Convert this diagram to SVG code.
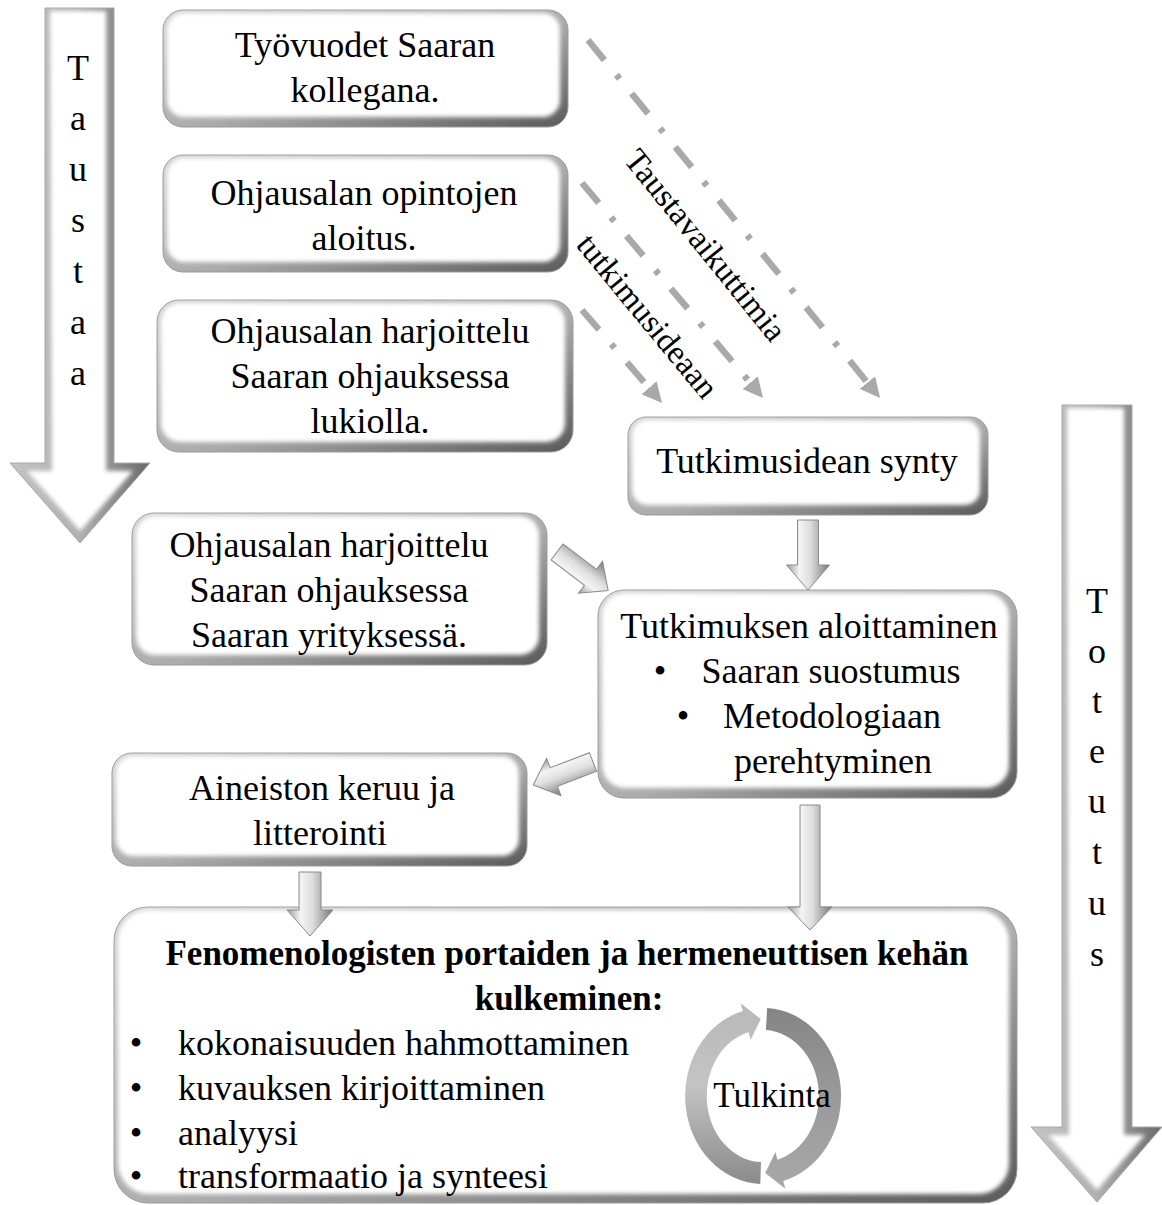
<svg xmlns="http://www.w3.org/2000/svg" width="1162" height="1205" viewBox="0 0 1162 1205">
<defs>
  <linearGradient id="gBox" x1="0" y1="0" x2="1" y2="1">
    <stop offset="0" stop-color="#d6d6d6"/>
    <stop offset="0.55" stop-color="#ababab"/>
    <stop offset="1" stop-color="#5a5a5a"/>
  </linearGradient>
  <linearGradient id="gBig" x1="0" y1="0" x2="1" y2="0">
    <stop offset="0" stop-color="#c4c4c4"/>
    <stop offset="0.5" stop-color="#b0b0b0"/>
    <stop offset="1" stop-color="#6a6a6a"/>
  </linearGradient>
  <linearGradient id="gBlk" x1="0" y1="0" x2="1" y2="0">
    <stop offset="0" stop-color="#9c9c9c"/>
    <stop offset="0.3" stop-color="#f4f4f4"/>
    <stop offset="0.55" stop-color="#dedede"/>
    <stop offset="0.75" stop-color="#b2b2b2"/>
    <stop offset="1" stop-color="#767676"/>
  </linearGradient>
  <linearGradient id="gRingL" x1="0" y1="0" x2="0" y2="1">
    <stop offset="0" stop-color="#b8b8b8"/>
    <stop offset="0.45" stop-color="#c4c4c4"/>
    <stop offset="1" stop-color="#8a8a8a"/>
  </linearGradient>
  <linearGradient id="gRingR" x1="0" y1="0" x2="0" y2="1">
    <stop offset="0" stop-color="#858585"/>
    <stop offset="0.5" stop-color="#9a9a9a"/>
    <stop offset="1" stop-color="#a8a8a8"/>
  </linearGradient>
  <filter id="soft" x="-5%" y="-5%" width="110%" height="110%">
    <feGaussianBlur stdDeviation="2.2"/>
  </filter>
  <marker id="dh" markerUnits="userSpaceOnUse" markerWidth="22" markerHeight="20" viewBox="0 0 22 20" refX="6" refY="10" orient="auto">
    <path d="M0,0 L20,10 L0,20 z" fill="#a9a9a9"/>
  </marker>
  <style>
    .bo { fill: url(#gBox); stroke: #9a9a9a; stroke-width: 1; }
    .bi { fill: #ffffff; filter: url(#soft); }
    .big { fill: url(#gBig); stroke: #a8a8a8; stroke-width: 1; }
    .blk { fill: url(#gBlk); stroke: #8a8a8a; stroke-width: 1; }
    .t { font-family: "Liberation Serif", "DejaVu Serif", serif; font-size: 36px; fill: #000; text-anchor: middle; }
    .tl { font-family: "Liberation Serif", "DejaVu Serif", serif; font-size: 36px; fill: #000; text-anchor: start; }
    .tb { font-family: "Liberation Serif", "DejaVu Serif", serif; font-size: 35px; font-weight: bold; fill: #000; text-anchor: middle; }
    .dd { fill: none; stroke: #a9a9a9; stroke-width: 6.5; stroke-dasharray: 26 19 5 19; marker-end: url(#dh); }
  </style>
</defs>
<rect width="1162" height="1205" fill="#ffffff"/>

<g id="taustaa">
  <polygon class="big" points="45,8 114,8 114,463 150,463 80,543 10,463 45,463"/>
  <polygon class="bi" points="50,11 106,11 106,471 133,471 80,531 27,471 52,471"/>
  <text class="t" x="78" y="80">T</text>
  <text class="t" x="78" y="130">a</text>
  <text class="t" x="78" y="181">u</text>
  <text class="t" x="78" y="232">s</text>
  <text class="t" x="78" y="283">t</text>
  <text class="t" x="78" y="334">a</text>
  <text class="t" x="78" y="385">a</text>
</g>

<g id="toteutus">
  <polygon class="big" points="1062,405 1132,405 1132,1127 1162,1127 1097,1202 1031,1127 1062,1127"/>
  <polygon class="bi" points="1067,408 1124,408 1124,1135 1145,1135 1097,1190 1048,1135 1069,1135"/>
  <text class="t" x="1097" y="613">T</text>
  <text class="t" x="1097" y="663">o</text>
  <text class="t" x="1097" y="713">t</text>
  <text class="t" x="1097" y="763">e</text>
  <text class="t" x="1097" y="813">u</text>
  <text class="t" x="1097" y="864">t</text>
  <text class="t" x="1097" y="915">u</text>
  <text class="t" x="1097" y="966">s</text>
</g>

<g id="n1">
  <rect class="bo" x="163" y="10" width="405" height="117" rx="20"/>
  <rect class="bi" x="167" y="13" width="393" height="104" rx="17"/>
  <text class="t" x="365" y="57">Työvuodet Saaran</text>
  <text class="t" x="365" y="102">kollegana.</text>
</g>

<g id="n2">
  <rect class="bo" x="163" y="155" width="405" height="117" rx="20"/>
  <rect class="bi" x="167" y="158" width="393" height="104" rx="17"/>
  <text class="t" x="364" y="205">Ohjausalan opintojen</text>
  <text class="t" x="364" y="250">aloitus.</text>
</g>

<g id="n3">
  <rect class="bo" x="157" y="300" width="416" height="152" rx="22"/>
  <rect class="bi" x="161" y="303" width="404" height="139" rx="19"/>
  <text class="t" x="370" y="343">Ohjausalan harjoittelu</text>
  <text class="t" x="370" y="388">Saaran ohjauksessa</text>
  <text class="t" x="370" y="433">lukiolla.</text>
</g>

<g id="n4">
  <rect class="bo" x="132" y="513" width="415" height="152" rx="22"/>
  <rect class="bi" x="136" y="516" width="403" height="139" rx="19"/>
  <text class="t" x="329" y="557">Ohjausalan harjoittelu</text>
  <text class="t" x="329" y="602">Saaran ohjauksessa</text>
  <text class="t" x="329" y="647">Saaran yrityksessä.</text>
</g>

<g id="n5">
  <rect class="bo" x="628" y="417" width="360" height="98" rx="18"/>
  <rect class="bi" x="632" y="420" width="348" height="85" rx="15"/>
  <text class="t" x="807" y="473">Tutkimusidean synty</text>
</g>

<g id="n6">
  <rect class="bo" x="598" y="590" width="419" height="208" rx="26"/>
  <rect class="bi" x="602" y="593" width="407" height="195" rx="23"/>
  <text class="t" x="809" y="638">Tutkimuksen aloittaminen</text>
  <text class="t" x="660" y="683">•</text>
  <text class="t" x="831" y="683">Saaran suostumus</text>
  <text class="t" x="683" y="728">•</text>
  <text class="t" x="832" y="728">Metodologiaan</text>
  <text class="t" x="833" y="773">perehtyminen</text>
</g>

<g id="n7">
  <rect class="bo" x="112" y="753" width="415" height="113" rx="20"/>
  <rect class="bi" x="116" y="756" width="403" height="100" rx="17"/>
  <text class="t" x="322" y="800">Aineiston keruu ja</text>
  <text class="t" x="320" y="845">litterointi</text>
</g>

<g id="n8">
  <rect class="bo" x="114" y="907" width="903" height="296" rx="34"/>
  <rect class="bi" x="118" y="910" width="891" height="284" rx="31"/>
  <text class="tb" x="567" y="965">Fenomenologisten portaiden ja hermeneuttisen kehän</text>
  <text class="tb" x="569" y="1010">kulkeminen:</text>
  <text class="t" x="136" y="1055">•</text>
  <text class="tl" x="178" y="1055">kokonaisuuden hahmottaminen</text>
  <text class="t" x="136" y="1100">•</text>
  <text class="tl" x="178" y="1100">kuvauksen kirjoittaminen</text>
  <text class="t" x="136" y="1145">•</text>
  <text class="tl" x="178" y="1145">analyysi</text>
  <text class="t" x="136" y="1188">•</text>
  <text class="tl" x="178" y="1188">transformaatio ja synteesi</text>
  <g id="tulkinta">
    <path fill="url(#gRingL)" d="M760.3,1183.9 A78,88 0 0 1 742.8,1011.0 L740.7,1003.3 L760.7,1019.0 L750.6,1040.0 L748.5,1032.2 A56,66 0 0 0 761.0,1162.0 Z"/>
    <path fill="url(#gRingR)" d="M767.1,1008.1 A78,88 0 0 1 783.2,1181.0 L785.3,1188.7 L765.3,1173.0 L775.4,1152.0 L777.5,1159.7 A56,66 0 0 0 765.9,1030.1 Z"/>
    <text class="t" x="772" y="1107" style="font-size:35px">Tulkinta</text>
  </g>
</g>

<g id="connectors">
  <line class="dd" x1="588" y1="40" x2="871.2" y2="387.2"/>
  <line class="dd" x1="582" y1="183" x2="754" y2="387.3"/>
  <line class="dd" x1="582" y1="310" x2="652.9" y2="392.4"/>
  <text class="t" style="font-size:33px" transform="translate(697,252) rotate(51)">Taustavaikuttimia</text>
  <text class="t" style="font-size:33px" transform="translate(639,323) rotate(50.5)">tutkimusideaan</text>
  <polygon class="blk" transform="translate(808,520)" points="-10.5,0 10.5,0 10.5,45 21.5,45 0,70 -21.5,45 -10.5,45"/>
  <polygon class="blk" transform="translate(557,552) rotate(-53)" points="-10,0 10,0 10,42 20,42 0,64 -20,42 -10,42"/>
  <polygon class="blk" transform="translate(593,762) rotate(69)" points="-10,0 10,0 10,42 20,42 0,64 -20,42 -10,42"/>
  <polygon class="blk" transform="translate(810,805)" points="-10,0 10,0 10,102 22,102 0,125 -22,102 -10,102"/>
  <polygon class="blk" transform="translate(310,872)" points="-11,0 11,0 11,38 23,38 0,64 -23,38 -11,38"/>
</g>
</svg>
